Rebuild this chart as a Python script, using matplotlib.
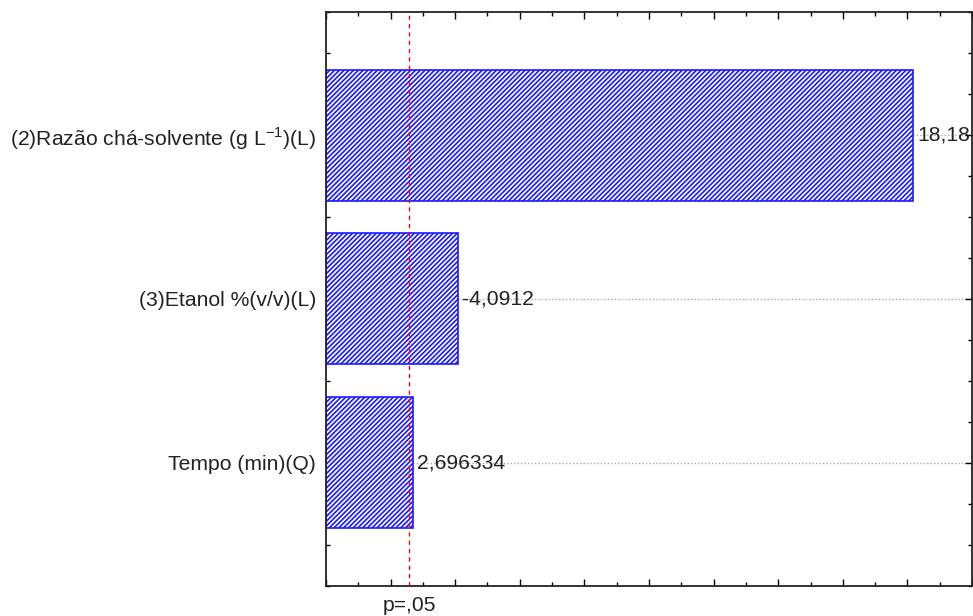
import matplotlib.pyplot as plt
from matplotlib.ticker import MultipleLocator, NullFormatter
import numpy as np

plt.rcParams['font.family'] = ['Liberation Sans', 'DejaVu Sans']
plt.rcParams['hatch.linewidth'] = 1.2
plt.rcParams['hatch.color'] = '#3a3aff'
plt.rcParams['axes.unicode_minus'] = False

# bottom to top
factors = ["Tempo (min)(Q)",
           "(3)Etanol %(v/v)(L)",
           "(2)Razão chá-solvente (g L$^{\\mathregular{-1}}$)(L)"]
effects = [2.696334, -4.0912, 18.18]
effect_labels = ["2,696334", "-4,0912", "18,18"]
p_crit = 2.57

fig = plt.figure(figsize=(9.73, 6.16), dpi=100)
ax = fig.add_axes([0.335, 0.0495, 0.664, 0.9305])

ypos = np.arange(len(factors))
ax.barh(ypos, np.abs(effects), height=0.8, color='white', edgecolor='#1a1aff',
        hatch='/' * 7, linewidth=1.2, zorder=2)

for y, v, s in zip(ypos, effects, effect_labels):
    ax.text(abs(v) + 0.12, y, s, va='center', ha='left', fontsize=15.2, color='#222222', zorder=3)

ax.axvline(p_crit, color='red', linestyle=(0, (3, 3)), linewidth=1, zorder=4)
ax.annotate("p=,05", xy=(p_crit, 0), xycoords=('data', 'axes fraction'),
            xytext=(0, -10), textcoords='offset pixels',
            ha='center', va='top', fontsize=15.2, color='#222222')

ax.set_xlim(0, 20)
ax.set_ylim(-0.75, 2.75)
ax.set_yticks(ypos)
ax.set_yticklabels(factors, fontsize=15.2, color='#222222')
ax.xaxis.set_major_locator(MultipleLocator(2))
ax.xaxis.set_minor_locator(MultipleLocator(1))
ax.xaxis.set_major_formatter(NullFormatter())
ax.yaxis.set_minor_locator(MultipleLocator(0.25))
ax.tick_params(which='both', direction='in', top=True, right=True, width=1)
ax.tick_params(which='major', length=5, pad=7)
ax.tick_params(which='minor', length=3)

ax.yaxis.grid(True, linestyle=(0, (1, 1.5)), color='#aaaaaa', linewidth=1)
ax.set_axisbelow(True)
for sp in ax.spines.values():
    sp.set_linewidth(1.3)
    sp.set_color('#222222')

fig.savefig("out.png", dpi=100)
